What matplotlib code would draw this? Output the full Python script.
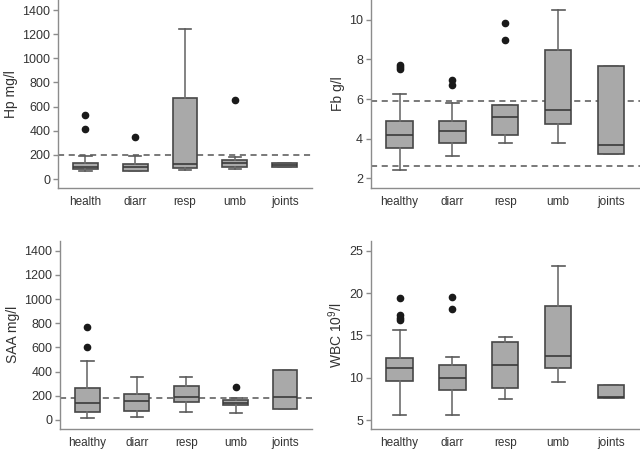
import numpy as np
import matplotlib
matplotlib.use("Agg")
import matplotlib.pyplot as plt

plt.rcParams['font.family'] = ['Liberation Sans', 'DejaVu Sans']
plt.rcParams['mathtext.fontset'] = 'custom'
plt.rcParams['mathtext.rm'] = 'Liberation Sans'
plt.rcParams['mathtext.it'] = 'Liberation Sans'

# Hp mg/l
hp_labels = ["health", "diarr", "resp", "umb", "joints"]
hp_med = [98, 100, 128, 132, 118]
hp_q1 = [80, 69, 94, 102, 104]
hp_q3 = [135, 124, 671, 160, 134]
hp_wlo = [63, 65, 72, 85, 104]
hp_whi = [192, 192, 1240, 185, 134]
hp_fliers = [[530, 417], [345], [], [652], []]
hp_ref = [197]

# Fb g/l
fb_labels = ["healthy", "diarr", "resp", "umb", "joints"]
fb_med = [4.2, 4.37, 5.08, 5.43, 3.68]
fb_q1 = [3.51, 3.8, 4.18, 4.72, 3.23]
fb_q3 = [4.89, 4.9, 5.7, 8.49, 7.68]
fb_wlo = [2.4, 3.11, 3.8, 3.8, 3.23]
fb_whi = [6.27, 5.81, 5.7, 10.5, 7.68]
fb_fliers = [[7.5, 7.6, 7.7], [6.7, 6.95], [9.0, 9.82], [], []]
fb_ref = [5.9, 2.6]

# SAA mg/l
saa_labels = ["healthy", "diarr", "resp", "umb", "joints"]
saa_med = [138, 155, 190, 140, 190]
saa_q1 = [63, 77, 146, 121, 94]
saa_q3 = [261, 218, 279, 163, 414]
saa_wlo = [14, 27, 63, 58, 94]
saa_whi = [490, 358, 358, 182, 414]
saa_fliers = [[769, 601], [], [], [270], []]
saa_ref = [182]

# WBC 10^9/l
wbc_labels = ["healthy", "diarr", "resp", "umb", "joints"]
wbc_med = [11.1, 9.93, 11.53, 12.6, 7.75]
wbc_q1 = [9.6, 8.58, 8.82, 11.18, 7.63]
wbc_q3 = [12.29, 11.5, 14.25, 18.5, 9.1]
wbc_wlo = [5.55, 5.55, 7.48, 9.45, 7.63]
wbc_whi = [15.7, 12.4, 14.77, 23.2, 9.1]
wbc_fliers = [[19.4, 17.4, 17.1, 16.8], [19.5, 18.1], [], [], []]
wbc_ref = []


def panel(ax, labels, med, q1, q3, wlo, whi, fliers, ref, ylabel, ylim, yticks):
    stats = []
    for i in range(len(labels)):
        stats.append(dict(med=med[i], q1=q1[i], q3=q3[i], whislo=wlo[i],
                          whishi=whi[i], fliers=fliers[i], label=labels[i]))
    ax.bxp(stats, positions=np.arange(1, len(labels) + 1), widths=0.5,
           patch_artist=True, manage_ticks=False,
           boxprops=dict(facecolor='#a9a9a9', edgecolor='#474747', linewidth=1.2),
           medianprops=dict(color='#3a3a3a', linewidth=1.2),
           whiskerprops=dict(color='#6e6e6e', linewidth=1.2),
           capprops=dict(color='#5a5a5a', linewidth=1.2),
           flierprops=dict(marker='o', markerfacecolor='#1a1a1a',
                           markeredgecolor='#1a1a1a', markersize=4.5))
    for r in ref:
        ax.axhline(r, color='#555555', linestyle=(0, (4, 3)), linewidth=1.1, zorder=0.5)
    ax.set_xticks(np.arange(1, len(labels) + 1))
    ax.set_xticklabels(labels)
    ax.set_xlim(0.45, len(labels) + 0.55)
    ax.set_ylim(*ylim)
    ax.set_yticks(yticks)
    ax.set_ylabel(ylabel, fontsize=10, color='#333333', labelpad=3)
    for s in ['top', 'right']:
        ax.spines[s].set_visible(False)
    for s in ['left', 'bottom']:
        ax.spines[s].set_color('#8c8c8c')
        ax.spines[s].set_linewidth(1.0)
    ax.tick_params(axis='x', length=0, pad=6, labelsize=8.5, labelcolor='#333333')
    ax.tick_params(axis='y', length=3.5, width=1.0, color='#8c8c8c', pad=2,
                   labelsize=9, labelcolor='#333333')


fig = plt.figure(figsize=(6.4, 4.49), dpi=100)
ax1 = fig.add_axes([0.0906, 0.581, 0.397, 0.419])
ax2 = fig.add_axes([0.579, 0.581, 0.421, 0.419])
ax3 = fig.add_axes([0.094, 0.0445, 0.394, 0.4195])
ax4 = fig.add_axes([0.579, 0.0445, 0.421, 0.4195])

panel(ax1, hp_labels, hp_med, hp_q1, hp_q3, hp_wlo, hp_whi, hp_fliers, hp_ref,
      'Hp mg/l', (-75, 1483), np.arange(0, 1401, 200))
panel(ax2, fb_labels, fb_med, fb_q1, fb_q3, fb_wlo, fb_whi, fb_fliers, fb_ref,
      'Fb g/l', (1.5, 11.0), np.arange(2, 11, 2))
panel(ax3, saa_labels, saa_med, saa_q1, saa_q3, saa_wlo, saa_whi, saa_fliers, saa_ref,
      'SAA mg/l', (-75, 1483), np.arange(0, 1401, 200))
panel(ax4, wbc_labels, wbc_med, wbc_q1, wbc_q3, wbc_wlo, wbc_whi, wbc_fliers, wbc_ref,
      'WBC 10$^9$/l', (3.94, 26.2), np.arange(5, 26, 5))

fig.savefig('out.png', dpi=100)
